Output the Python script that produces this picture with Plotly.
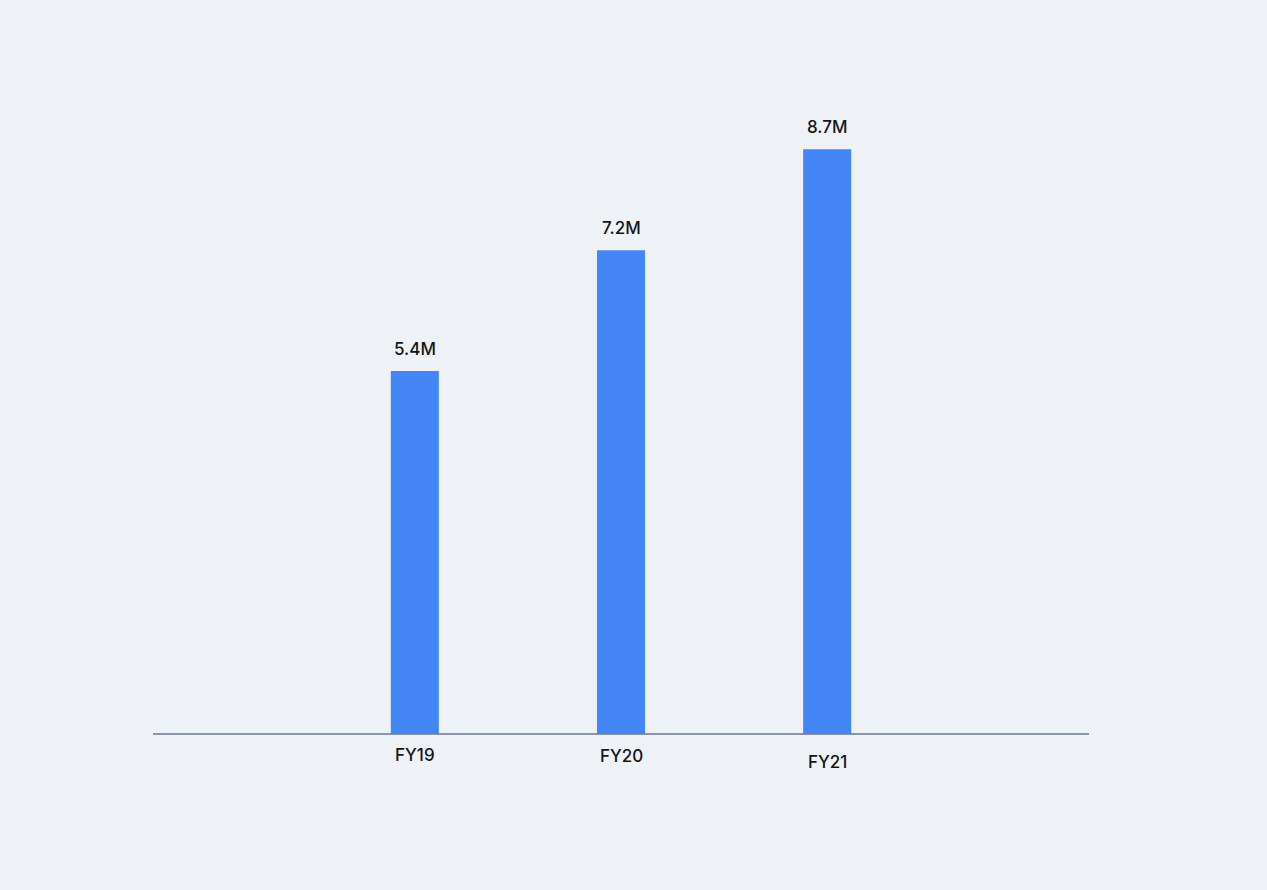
import plotly.graph_objects as go

# Annual totals by fiscal year (millions)
years = ["FY19", "FY20", "FY21"]
values = [5.4, 7.2, 8.7]
value_labels = ["5.4M", "7.2M", "8.7M"]

# Vertical nudge (px) for each category label under the axis
label_shift = [-21, -22, -28]

BG = "#eef2f7"
BAR = "#4486f5"
INK = "#151515"
FONT = dict(size=17, color=INK, family="Inter", weight=500)

fig = go.Figure()
fig.add_trace(go.Bar(
    x=list(range(len(years))),
    y=values,
    width=0.233,
    marker=dict(color=BAR, line=dict(width=0)),
    hoverinfo="skip",
))

annotations = []
for i, (v, lab) in enumerate(zip(values, value_labels)):
    annotations.append(dict(
        x=i, y=v, xref="x", yref="y", text=lab, showarrow=False,
        yshift=22, font=FONT,
    ))
for i, (yr, s) in enumerate(zip(years, label_shift)):
    annotations.append(dict(
        x=i, y=0, xref="x", yref="y", text=yr, showarrow=False,
        yshift=s, font=FONT,
    ))

fig.update_layout(
    width=1267, height=890,
    margin=dict(l=153, r=178, t=64, b=156),
    paper_bgcolor=BG, plot_bgcolor=BG,
    showlegend=False,
    xaxis=dict(range=[-1.27, 3.27], showgrid=False, zeroline=False,
               showticklabels=False, showline=False, fixedrange=True),
    yaxis=dict(range=[0, 9.97], showgrid=False, zeroline=True,
               zerolinecolor="#8b95ad", zerolinewidth=1.5,
               showticklabels=False, showline=False, fixedrange=True),
    annotations=annotations,
)

fig.write_html("out.html")
